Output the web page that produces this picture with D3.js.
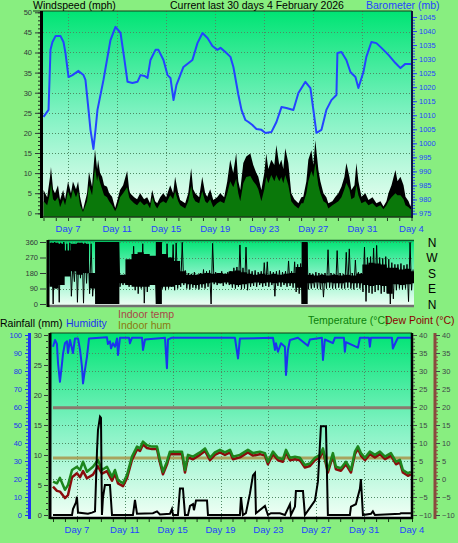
<!DOCTYPE html>
<html><head><meta charset="utf-8">
<script src="https://cdn.jsdelivr.net/npm/d3@7"></script>
<style>
html,body{margin:0;padding:0;background:#88ee80;}
svg{display:block;font-family:"Liberation Sans",Arial,sans-serif;}
</style></head><body>
<svg id="c" width="458" height="543"></svg>
<script>
// ---------- DATA (time in days from start of the 30-day window) ----------
const dayTicks = [2, 6, 10, 14, 18, 22, 26, 30];
const dayLabels = ["Day 7", "Day 11", "Day 15", "Day 19", "Day 23", "Day 27", "Day 31", "Day 4"];

const baroT = [0,0.41,0.57,0.73,0.98,1.39,1.63,1.79,2.04,2.36,
 2.85,3.26,3.42,3.67,3.83,4.07,4.24,4.40,4.89,5.46,
 5.87,6.28,6.60,6.85,7.25,7.66,7.91,8.23,8.48,8.72,
 9.13,9.37,9.78,10.11,10.35,10.60,10.84,11.00,11.41,12.14,
 12.55,12.96,13.37,13.77,14.18,14.43,14.83,15.24,15.48,15.89,
 16.14,16.46,16.71,17.03,17.36,17.77,18.09,18.58,18.99,19.40,
 19.80,20.37,20.78,21.35,21.76,22.00,22.25,22.66,23.06,23.47,
 23.88,23.96,24.29,24.69,25.02,25.43,25.67,26.08,26.32,26.73,
 27.14,27.55,28.12,28.69,29.10,29.50,30];
const baroV = [1009.4,1011.9,1033.3,1036.1,1038.2,1038.2,1036.1,1032.2,1023.6,1024.3,
 1025.8,1024.3,1022.6,1011.9,1004.8,998.0,1004.8,1011.9,1022.6,1036.8,
 1041.5,1039.3,1029.7,1021.9,1021.5,1021.9,1024.3,1024.0,1023.3,1029.7,
 1033.3,1033.3,1029.7,1024.3,1023.3,1015.4,1020.8,1022.6,1027.2,1029.7,
 1035.7,1039.3,1037.5,1034.7,1033.3,1034.0,1032.5,1030.8,1027.2,1017.2,
 1011.9,1008.3,1007.6,1006.5,1005.1,1004.8,1003.7,1004.0,1007.6,1012.9,
 1012.6,1011.9,1017.9,1021.9,1019.7,1011.9,1003.7,1004.8,1011.9,1015.4,
 1017.2,1032.2,1032.5,1029.7,1025.4,1023.6,1019.7,1025.4,1030.8,1036.1,
 1035.7,1034.0,1031.5,1028.6,1026.8,1028.3,1028.3];

const windT = [0,0.3,0.53,0.61,0.78,0.94,1.18,1.35,1.6,1.76,
 2.0,2.24,2.4,2.65,2.82,2.98,3.22,3.55,3.71,3.96,
 4.12,4.2,4.37,4.45,4.61,4.78,4.94,5.18,5.35,5.59,
 5.84,6.0,6.24,6.49,6.82,6.98,7.06,7.39,7.63,7.88,
 8.2,8.45,8.69,8.86,9.1,9.27,9.51,9.76,10.0,10.33,
 10.57,10.73,10.98,11.14,11.55,11.8,12.04,12.2,12.37,12.69,
 12.94,13.18,13.35,13.59,13.84,14.16,14.41,14.73,14.98,15.22,
 15.47,15.71,15.88,16.04,16.29,16.53,16.86,17.1,17.35,17.51,
 17.76,18.0,18.16,18.33,18.57,18.82,18.98,19.22,19.39,19.55,
 19.71,19.96,20.2,20.45,20.78,21.02,21.18,21.43,21.59,21.84,
 22.0,22.16,22.41,22.57,22.82,23.06,23.22,23.55,23.8,24.04,
 24.29,24.53,24.69,24.94,25.1,25.35,25.51,25.67,25.92,26.24,
 26.49,26.82,27.14,27.47,27.71,27.96,28.12,28.37,28.69,28.86,
 29.1,29.35,29.51,29.76,29.92,30];
const windGust = [5.8,4,9,11.5,6,5,7,3.3,5.8,3.5,
 7.9,5,7.9,6,7.9,4.1,0.8,5,10.3,6.6,
 13,15.9,11,13.3,10,9.1,7,6.6,5,4.1,
 1.3,3,5.8,7,10.5,6,5,4,3.5,5,
 3.5,4,2.5,5.8,3,2.5,4,5,4,7,
 5,9.1,5,3.3,2.5,5,11.2,6,5,4,
 9.1,5,4.1,6,3.3,4,5,4,7.9,13.3,
 10,15,8,5.8,12.5,14.1,14.9,12,10,9.1,
 5.8,10,14.9,11,13.3,12,17,12,13.3,11,
 16.2,12.5,5,3.5,2.5,4,4.1,8,13.3,15.7,
 12,18.2,10.8,8,5,4,2.5,3,4.1,5,
 6.6,9,12.5,9,5.8,7,12.5,8,4.1,5,
 3.3,4,2.5,3,1.7,3,5,7,10.8,8,
 9.1,7,4.1,3,1.7,3];
const windAvg = [3,2,5,7.5,3.5,3,4,1.5,3.5,2,
 5.5,3.5,6,4,5.5,2,0.3,3,7,4.5,
 9,11.3,8,9.5,7.6,6,4.5,4,3,2,
 0.5,1.5,4,5,6.5,4,3.5,2.5,2,3,
 2,2.5,1.2,4,2,1.2,2.5,3,2.5,4.5,
 3.5,5.5,3,2,1.2,3,6.8,4,3,2.5,
 5.5,3,2.5,3.5,1.5,2.5,3,2.5,5,8,
 6.5,8.6,5,3,7.5,9,9.3,8,7,6,
 3,6,9,7.5,9.5,8,9.5,8,9,7.5,
 9.5,7,3,2,1.2,2.5,2.5,5,8,10.5,
 9,12.5,7,5,3,2.5,1.2,2,2.5,3,
 4,6,7.6,6,3.5,4,7,4.5,2.5,3,
 2,2.5,1.5,2,1,2,3,4,5,4.5,
 4.5,3.5,2,1.5,1,1.5];
// white low-level blocks in the wind panel
const windWhiteStart = [0.29,2.16,4.04,11.1,12.0,13.8,15.06,16.3,18.2,20.4,21.6,24.0,25.5,28.3];
const windWhiteEnd   = [0.78,2.82,5.59,11.7,12.2,14.4,16.04,17.8,19.96,20.5,22.2,25.1,25.7,29.3];
const windWhiteV     = [0.2,0.2,0.9,0.5,0.5,0.5,0.2,1.6,2.0,1.0,2.5,1.2,1.0,1.2];

// wind direction: lowest / highest bearing in each 6-hour bin (120 bins)
const dirLow = [120,0,90,10,180,200,170,45,130,10,
 150,5,120,60,45,60,0,0,0,0,
 0,0,0,100,110,110,100,120,80,60,
 90,5,70,140,130,0,0,90,80,90,
 100,80,90,100,110,90,85,95,90,85,
 95,90,100,0,115,110,120,105,115,110,
 95,90,100,85,90,80,100,105,100,110,
 100,105,100,110,45,105,100,110,100,105,
 95,70,60,0,5,85,90,95,90,85,
 40,90,95,90,90,95,90,90,95,90,
 85,95,90,70,15,65,60,70,80,60,
 70,65,0,30,80,90,85,90,14,80];
const dirHigh = [355,360,350,355,360,350,355,235,345,350,
 340,355,330,350,175,190,360,360,360,360,
 360,360,360,165,170,230,240,335,270,260,
 350,250,270,230,240,360,360,260,350,270,
 345,355,250,358,195,180,175,185,170,180,
 200,190,195,352,185,180,190,175,185,190,
 210,215,343,210,330,200,190,195,185,190,
 240,245,190,185,190,195,185,190,250,190,
 245,230,235,360,355,180,175,185,180,175,
 180,315,180,175,310,180,175,300,320,180,
 255,185,180,330,270,275,325,340,270,265,
 275,260,240,230,230,235,225,230,358,200];
// dense core of the wind-direction trace, every 12 hours (61 values)
const dirCoreLo = [100,90,110,160,190,170,180,90,0,0,
 0,0,120,110,100,100,100,110,0,100,
 100,110,120,115,110,115,120,125,120,125,
 115,110,115,120,125,120,125,120,125,120,
 120,95,0,120,125,120,125,120,120,125,
 120,120,110,105,110,105,60,115,110,115,120];
const dirCoreHi = [355,355,350,310,350,355,350,180,360,360,
 360,360,170,260,290,300,290,280,360,290,
 270,250,190,170,170,175,180,175,180,175,
 190,195,185,175,170,175,170,175,170,175,
 180,215,360,170,165,170,165,170,165,170,
 165,175,230,240,235,230,210,210,200,205,190];

const tempT = [0,0.33,0.58,1.0,1.25,1.59,2.0,2.26,2.51,2.84,
 3.34,3.76,4.09,4.51,4.93,5.18,5.43,5.85,6.18,6.6,
 7.02,7.27,7.52,7.85,8.27,8.69,8.94,9.19,9.52,9.77,
 10.36,10.78,11.03,11.28,11.7,12.28,12.7,13.12,13.53,13.95,
 14.37,14.79,15.04,15.62,16.29,16.71,17.29,17.71,17.96,18.38,
 18.8,19.21,19.47,19.8,20.22,20.63,21.05,21.47,21.89,22.31,
 22.56,22.81,22.97,23.39,23.64,24.06,24.48,24.9,25.23,25.48,
 25.73,26.07,26.48,26.9,27.32,27.74,28.24,28.66,28.99,29.24,
 29.66,29.91];
const tempV = [-0.75,-1.2,0.3,-3,-1.7,2.5,3.4,2.5,4.8,2,
 3.4,5.3,2.5,3.4,0.6,2.5,-0.3,-1.2,1.1,6.2,
 9,8.5,10.4,9.4,9,9,5.3,2.0,4.8,7.6,
 7.6,7.6,2.5,6.7,6.2,7.4,8.5,5.9,7.4,8.1,
 7.4,8.1,6.2,6.7,8.1,7.2,7.6,7.2,4.8,7.6,
 5.9,5.5,8.1,5.9,6.2,5.9,3.9,4.3,5.9,6.7,
 8.5,4.8,2.5,7.2,3.4,3.0,4.8,2.5,7.6,9.1,
 7.2,5.9,7.6,6.7,7.6,6.2,7.2,4.8,5.3,2.5,
 1.6,2.0];
const dewV = [-2.1,-3.3,-3.5,-5.3,-4.5,0.5,1.6,0.5,2.2,0.2,
 1.2,3.5,1.5,2.2,-0.5,1.5,-1.2,-2.0,0.2,5.3,
 8.2,7.8,9.6,8.6,8.3,8.3,4.5,1.3,4.0,6.9,
 6.9,6.9,1.8,6.0,5.5,6.7,7.8,5.2,6.7,7.4,
 6.7,7.4,5.5,6.0,7.4,6.5,6.9,6.5,4.1,6.9,
 5.2,4.8,7.4,5.2,5.5,5.2,3.2,3.6,5.2,6.0,
 7.8,4.1,1.8,6.5,2.7,2.3,4.1,1.8,6.9,8.4,
 6.5,5.2,6.9,6.0,6.9,5.5,6.5,4.1,4.6,1.8,
 0.9,1.3];

const humT = [0,0.17,0.33,0.42,0.58,0.75,0.84,1.0,1.17,1.25,
 1.42,1.67,1.84,2.09,2.26,2.42,2.51,2.67,2.84,3.01,
 4.51,4.59,4.76,4.85,5.01,5.18,5.35,5.43,5.6,6.35,
 6.43,6.6,7.44,7.52,7.69,9.36,9.52,9.61,9.94,15.2,
 15.46,15.62,18.38,18.55,18.63,18.8,19.05,19.38,19.47,19.63,
 19.8,20.47,21.3,21.47,22.47,22.56,22.72,23.39,23.56,24.31,
 24.39,24.48,25.48,25.65,26.4,26.48,26.57,28.32,28.4,28.57,
 28.82,29.91];
const humV = [93.5,97.2,95,84.3,74,84,89.8,95.4,96.5,90,
 97.2,90,98.1,98.1,91.7,82.4,73.1,80.6,88,98.1,
 98.7,95,96.5,92.6,95.4,93.5,98.1,88.9,98.5,98.5,
 95.4,98.5,98.5,91.7,97.5,98.5,81.5,97.5,98.5,98.5,
 87,98,98.5,91.7,95.4,90.7,95.4,93.5,77.8,91.7,
 97.2,98.5,94,97.5,98.5,86.1,97.5,95.5,98.5,98.5,
 90.7,96,93,98.5,98.5,93.5,98.5,98.5,92.5,95,
 98.5,98.5];

const rainT = [0,1.59,1.67,1.92,2.0,2.09,2.92,3.26,3.51,3.68,
 3.76,3.93,4.01,4.09,4.18,4.34,4.76,4.93,6.68,6.85,
 7.02,8.35,8.69,8.94,9.77,9.94,10.03,10.44,10.61,10.86,
 11.03,11.28,11.45,11.7,11.78,11.95,12.87,12.95,15.62,15.71,
 15.87,16.12,16.46,16.71,16.88,16.96,17.71,17.96,18.21,18.96,
 19.38,19.8,19.88,20.22,20.3,20.89,21.05,21.89,22.14,22.39,
 22.81,22.97,24.81,24.9,25.31,25.65,25.73,25.9,26.57,26.73,
 26.9,28.99,29.07,29.91];
const rainV = [0,0,1.0,2.1,3.05,0.4,0.2,0.4,0.6,10.8,
 14.2,16.4,16.2,0,3,5,5,0,0,2.5,
 0.2,0.3,0.6,0.1,0.2,1.0,0,0,4.4,4.4,
 0,0,1.5,1.8,0.8,2.4,2.4,0,0,3,
 0,0.3,3.6,6.6,7,0.3,1.5,0,0.3,0.3,
 0,1.8,0,1.4,4,4,0,2.4,5.6,14.8,
 14.8,0,0,1.4,1.8,4.4,6,0,0.2,0.6,
 0,0.2,0.3,0.3];

const indoorT = [0, 30];
const indoorTempV = [19.8, 19.8];
const indoorHumV = [31.7, 31.7];

// ---------- DRAWING ----------
const svg = d3.select("#c");
svg.append("rect").attr("width",458).attr("height",543).attr("fill","#88ee80");
const defs = svg.append("defs");
function grad(id){
  const g = defs.append("linearGradient").attr("id",id).attr("x1",0).attr("y1",0).attr("x2",0).attr("y2",1);
  g.append("stop").attr("offset","0%").attr("stop-color","#00e474");
  g.append("stop").attr("offset","50%").attr("stop-color","#80f2c2");
  g.append("stop").attr("offset","100%").attr("stop-color","#f2fff6");
}
grad("g1"); grad("g2"); grad("g3");
const gridCol = "#4f8a64";
const fmt = d3.format("d");
function hgrid(g, scale, vals, x0, x1){
  g.selectAll(null).data(vals).join("line")
   .attr("x1",x0).attr("x2",x1).attr("y1",d=>Math.round(scale(d))+0.5).attr("y2",d=>Math.round(scale(d))+0.5)
   .attr("stroke",gridCol).attr("stroke-width",1).attr("stroke-dasharray","1,2");
}
function vgrid(g, scale, vals, y0, y1){
  g.selectAll(null).data(vals).join("line")
   .attr("y1",y0).attr("y2",y1).attr("x1",d=>Math.round(scale(d))+0.5).attr("x2",d=>Math.round(scale(d))+0.5)
   .attr("stroke",gridCol).attr("stroke-width",1).attr("stroke-dasharray","1,2");
}
function styleAxis(g, color, fs){
  g.select(".domain").remove();
  g.selectAll(".tick line").attr("stroke",color);
  g.selectAll(".tick text").attr("fill",color).attr("font-size",fs).attr("font-family","'Liberation Sans',Arial,sans-serif");
}
const range = (a,b,s)=>d3.range(a,b+s/2,s);

// ===== Panel 1: wind speed + barometer =====
const P1 = {l:43, r:412, t:11, b:217};
const x1 = d3.scaleLinear().domain([0,30]).range([43.5,411.5]);
const yW = d3.scaleLinear().domain([0,50]).range([213.3,12.3]);
const yB = d3.scaleLinear().domain([975,1045]).range([213.5,17]);
const p1 = svg.append("g");
p1.append("rect").attr("x",P1.l).attr("y",P1.t).attr("width",P1.r-P1.l).attr("height",P1.b-P1.t).attr("fill","url(#g1)");
hgrid(p1, yW, range(5,45,5), P1.l, P1.r);
vgrid(p1, x1, dayTicks.slice(0,-1), P1.t, P1.b);
const gustArea = d3.area().x((d,i)=>x1(windT[i])).y0(P1.b).y1((d)=>yW(d));
p1.append("path").attr("d",gustArea(windGust)).attr("fill","#000");
p1.selectAll(null).data(windWhiteV).join("rect")
  .attr("x",(d,i)=>x1(windWhiteStart[i])).attr("width",(d,i)=>x1(windWhiteEnd[i])-x1(windWhiteStart[i]))
  .attr("y",d=>yW(d)).attr("height",d=>P1.b-yW(d)).attr("fill","#fff");
p1.append("path").attr("d",gustArea(windAvg)).attr("fill","#0a780a");
p1.append("path").attr("d",d3.line().x((d,i)=>x1(baroT[i])).y(d=>yB(d))(baroV))
  .attr("fill","none").attr("stroke","#2444ff").attr("stroke-width",2).attr("stroke-linejoin","round");
// frame
p1.append("line").attr("x1",33).attr("x2",P1.r).attr("y1",P1.t).attr("y2",P1.t).attr("stroke","#1a3a1a").attr("stroke-width",1);
p1.append("line").attr("x1",P1.l).attr("x2",P1.r).attr("y1",P1.b).attr("y2",P1.b).attr("stroke","#1a3a1a").attr("stroke-width",1.5);
p1.append("line").attr("x1",41.5).attr("x2",41.5).attr("y1",P1.t).attr("y2",P1.b+1).attr("stroke","#000").attr("stroke-width",3);
p1.append("line").attr("x1",P1.r).attr("x2",P1.r).attr("y1",P1.t).attr("y2",P1.b+1).attr("stroke","#101040").attr("stroke-width",2);
// axes
const aWminor = p1.append("g").attr("transform",`translate(40,0)`).call(d3.axisLeft(yW).tickValues(range(0,50,1)).tickSize(2).tickFormat(""));
styleAxis(aWminor,"#203020",7);
const aW = p1.append("g").attr("transform",`translate(40,0)`).call(d3.axisLeft(yW).tickValues(range(0,50,5)).tickSize(5).tickPadding(3).tickFormat(fmt));
styleAxis(aW,"#303838","7.5px");
const aBminor = p1.append("g").attr("transform",`translate(${P1.r+1},0)`).call(d3.axisRight(yB).tickValues(range(975,1045,1)).tickSize(2).tickFormat(""));
styleAxis(aBminor,"#2444ff",7);
const aB = p1.append("g").attr("transform",`translate(${P1.r+1},0)`).call(d3.axisRight(yB).tickValues(range(975,1045,5)).tickSize(4).tickPadding(2).tickFormat(fmt));
styleAxis(aB,"#2444ff","7.5px");
const aX1 = p1.append("g").attr("transform",`translate(0,${P1.b+1})`).call(d3.axisBottom(x1).tickValues(range(0,30,1)).tickSize(3).tickFormat(""));
styleAxis(aX1,"#1a3a1a",7);
p1.selectAll(null).data(dayTicks).join("text").attr("x",d=>x1(d)).attr("y",232)
  .attr("text-anchor","middle").attr("font-size","9.5px").attr("fill","#2444ff").text((d,i)=>dayLabels[i]);

// titles
svg.append("text").attr("x",33).attr("y",9).attr("font-size","10.5px").attr("fill","#000").text("Windspeed (mph)");
svg.append("text").attr("x",170).attr("y",9).attr("font-size","10.5px").attr("fill","#000").text("Current last 30 days 4 February 2026");
svg.append("text").attr("x",366).attr("y",9).attr("font-size","10.5px").attr("fill","#2444ff").text("Barometer (mb)");

// ===== Panel 2: wind direction =====
const P2 = {l:48, r:414, t:240, b:306};
const x2 = d3.scaleLinear().domain([0,30]).range([49.5,414]);
const yD = d3.scaleLinear().domain([0,360]).range([304,242]);
const p2 = svg.append("g");
p2.append("rect").attr("x",P2.l).attr("y",P2.t).attr("width",P2.r-P2.l).attr("height",P2.b-P2.t).attr("fill","url(#g2)");
hgrid(p2, yD, [90,180,270,360], P2.l, P2.r);
p2.append("path").attr("d",d3.area().curve(d3.curveStep).x((d,i)=>x2(i*0.5)).y0((d,i)=>yD(dirCoreLo[i])).y1(d=>yD(d))(dirCoreHi))
  .attr("fill","#000");
const dirPts = [];
dirLow.forEach((lo,i)=>{ dirPts.push([x2((i+0.2)/4), yD(lo)]); dirPts.push([x2((i+0.7)/4), yD(dirHigh[i])]); });
p2.append("path").attr("d",d3.line()(dirPts)).attr("fill","none").attr("stroke","#000").attr("stroke-width",1);
p2.append("line").attr("x1",P2.l).attr("x2",P2.r).attr("y1",P2.t+0.5).attr("y2",P2.t+0.5).attr("stroke","#0a5a2a").attr("stroke-width",1.5);
p2.append("line").attr("x1",P2.l).attr("x2",P2.r).attr("y1",P2.b).attr("y2",P2.b).attr("stroke","#707070").attr("stroke-width",2.5);
p2.append("line").attr("x1",P2.l).attr("x2",P2.l).attr("y1",P2.t).attr("y2",P2.b+1).attr("stroke","#000").attr("stroke-width",3);
const aD = p2.append("g").attr("transform",`translate(46,0)`).call(d3.axisLeft(yD).tickValues([0,90,180,270,360]).tickSize(6).tickPadding(2).tickFormat(fmt));
styleAxis(aD,"#303838","7.5px");
const compass = ["N","W","S","E","N"];
p2.selectAll(null).data([360,270,180,90,0]).join("text").attr("x",432).attr("y",d=>yD(d)+4.5)
  .attr("text-anchor","middle").attr("font-size","12px").attr("fill","#000").text((d,i)=>compass[i]);

// ===== Panel 3: rain, humidity, temperatures =====
const P3 = {l:50, r:412, t:333, b:518};
const x3 = d3.scaleLinear().domain([0,30]).range([53,412]);
const yT = d3.scaleLinear().domain([-10,40]).range([515,335]);
const yH = d3.scaleLinear().domain([0,100]).range([515,335]);
const yR = d3.scaleLinear().domain([0,30]).range([515,335]);
const p3 = svg.append("g");
p3.append("rect").attr("x",P3.l).attr("y",P3.t).attr("width",P3.r-P3.l).attr("height",P3.b-P3.t).attr("fill","url(#g3)");
hgrid(p3, yT, range(-5,35,5), P3.l, P3.r);
vgrid(p3, x3, dayTicks.slice(0,-1), P3.t, P3.b);
const ln = (T,sc)=>d3.line().x((d,i)=>x3(T[i])).y(d=>sc(d));
p3.append("path").attr("d",ln(indoorT,yT)(indoorTempV)).attr("stroke","#8a7a6e").attr("stroke-width",3).attr("fill","none");
p3.append("path").attr("d",ln(indoorT,yH)(indoorHumV)).attr("stroke","#a8a45e").attr("stroke-width",3).attr("fill","none");
p3.append("path").attr("d",ln(tempT,yT)(dewV)).attr("stroke","#8a0c0c").attr("stroke-width",2.5).attr("fill","none").attr("stroke-linejoin","round");
p3.append("path").attr("d",ln(tempT,yT)(tempV)).attr("stroke","#1c861c").attr("stroke-width",2.5).attr("fill","none").attr("stroke-linejoin","round");
p3.append("path").attr("d",ln(rainT,yR)(rainV)).attr("stroke","#000").attr("stroke-width",2).attr("fill","none");
p3.append("path").attr("d",ln(humT,yH)(humV)).attr("stroke","#1c34ee").attr("stroke-width",2).attr("fill","none").attr("stroke-linejoin","round");
// frame
p3.append("line").attr("x1",P3.l).attr("x2",P3.r).attr("y1",P3.t).attr("y2",P3.t).attr("stroke","#1a3a1a").attr("stroke-width",1);
p3.append("line").attr("x1",P3.l).attr("x2",P3.r+1).attr("y1",P3.b).attr("y2",P3.b).attr("stroke","#000").attr("stroke-width",2.5);
p3.append("line").attr("x1",P3.l).attr("x2",P3.l).attr("y1",P3.t).attr("y2",P3.b+1).attr("stroke","#000").attr("stroke-width",3);
p3.append("line").attr("x1",P3.r).attr("x2",P3.r).attr("y1",P3.t).attr("y2",P3.b+1).attr("stroke","#000").attr("stroke-width",2.5);
// rain axis
const aRm = p3.append("g").attr("transform",`translate(48,0)`).call(d3.axisLeft(yR).tickValues(range(0,30,1)).tickSize(2).tickFormat(""));
styleAxis(aRm,"#303030",7);
const aR = p3.append("g").attr("transform",`translate(48,0)`).call(d3.axisLeft(yR).tickValues(range(0,30,5)).tickSize(4).tickPadding(2).tickFormat(fmt));
styleAxis(aR,"#303838","7.5px");
// humidity axis
p3.append("line").attr("x1",29.5).attr("x2",29.5).attr("y1",P3.t).attr("y2",P3.b+1).attr("stroke","#1c34ee").attr("stroke-width",3);
const aHm = p3.append("g").attr("transform",`translate(28,0)`).call(d3.axisLeft(yH).tickValues(range(0,100,2)).tickSize(2).tickFormat(""));
styleAxis(aHm,"#1c34ee",7);
const aH = p3.append("g").attr("transform",`translate(28,0)`).call(d3.axisLeft(yH).tickValues(range(0,100,10)).tickSize(3).tickPadding(3).tickFormat(fmt));
styleAxis(aH,"#1c34ee","7.5px");
// temperature axes
const aTm = p3.append("g").attr("transform",`translate(${P3.r+1},0)`).call(d3.axisRight(yT).tickValues(range(-10,40,1)).tickSize(2).tickFormat(""));
styleAxis(aTm,"#505050",7);
const aT = p3.append("g").attr("transform",`translate(${P3.r+1},0)`).call(d3.axisRight(yT).tickValues(range(-10,40,5)).tickSize(4).tickPadding(2).tickFormat(fmt));
styleAxis(aT,"#404848","7.5px");
p3.append("line").attr("x1",435).attr("x2",435).attr("y1",P3.t).attr("y2",P3.b+1).attr("stroke","#8a4a3e").attr("stroke-width",3);
const aDm = p3.append("g").attr("transform",`translate(436,0)`).call(d3.axisRight(yT).tickValues(range(-10,40,1)).tickSize(2).tickFormat(""));
styleAxis(aDm,"#8a4a3e",7);
const aDp = p3.append("g").attr("transform",`translate(436,0)`).call(d3.axisRight(yT).tickValues(range(-10,40,5)).tickSize(4).tickPadding(2).tickFormat(fmt));
styleAxis(aDp,"#404848","7.5px");
const aX3 = p3.append("g").attr("transform",`translate(0,${P3.b+1})`).call(d3.axisBottom(x3).tickValues(range(0,30,1)).tickSize(3).tickFormat(""));
styleAxis(aX3,"#1a3a1a",7);
p3.selectAll(null).data(dayTicks).join("text").attr("x",d=>x3(d)).attr("y",533)
  .attr("text-anchor","middle").attr("font-size","9.5px").attr("fill","#2444ff").text((d,i)=>dayLabels[i]);
// headers
svg.append("text").attr("x",0).attr("y",327).attr("font-size","10.5px").attr("fill","#000").text("Rainfall (mm)");
svg.append("text").attr("x",66).attr("y",327).attr("font-size","10.5px").attr("fill","#1c34ee").text("Humidity");
svg.append("text").attr("x",118).attr("y",318).attr("font-size","10.5px").attr("fill","#a84848").text("Indoor temp");
svg.append("text").attr("x",118).attr("y",329).attr("font-size","10.5px").attr("fill","#8a7a10").text("Indoor hum");
svg.append("text").attr("x",308).attr("y",324).attr("font-size","10.5px").attr("fill","#0a800a").text("Temperature (°C)");
svg.append("text").attr("x",385).attr("y",324).attr("font-size","10.5px").attr("fill","#8a0000").text("Dew Point (°C)");
</script>
</body></html>
